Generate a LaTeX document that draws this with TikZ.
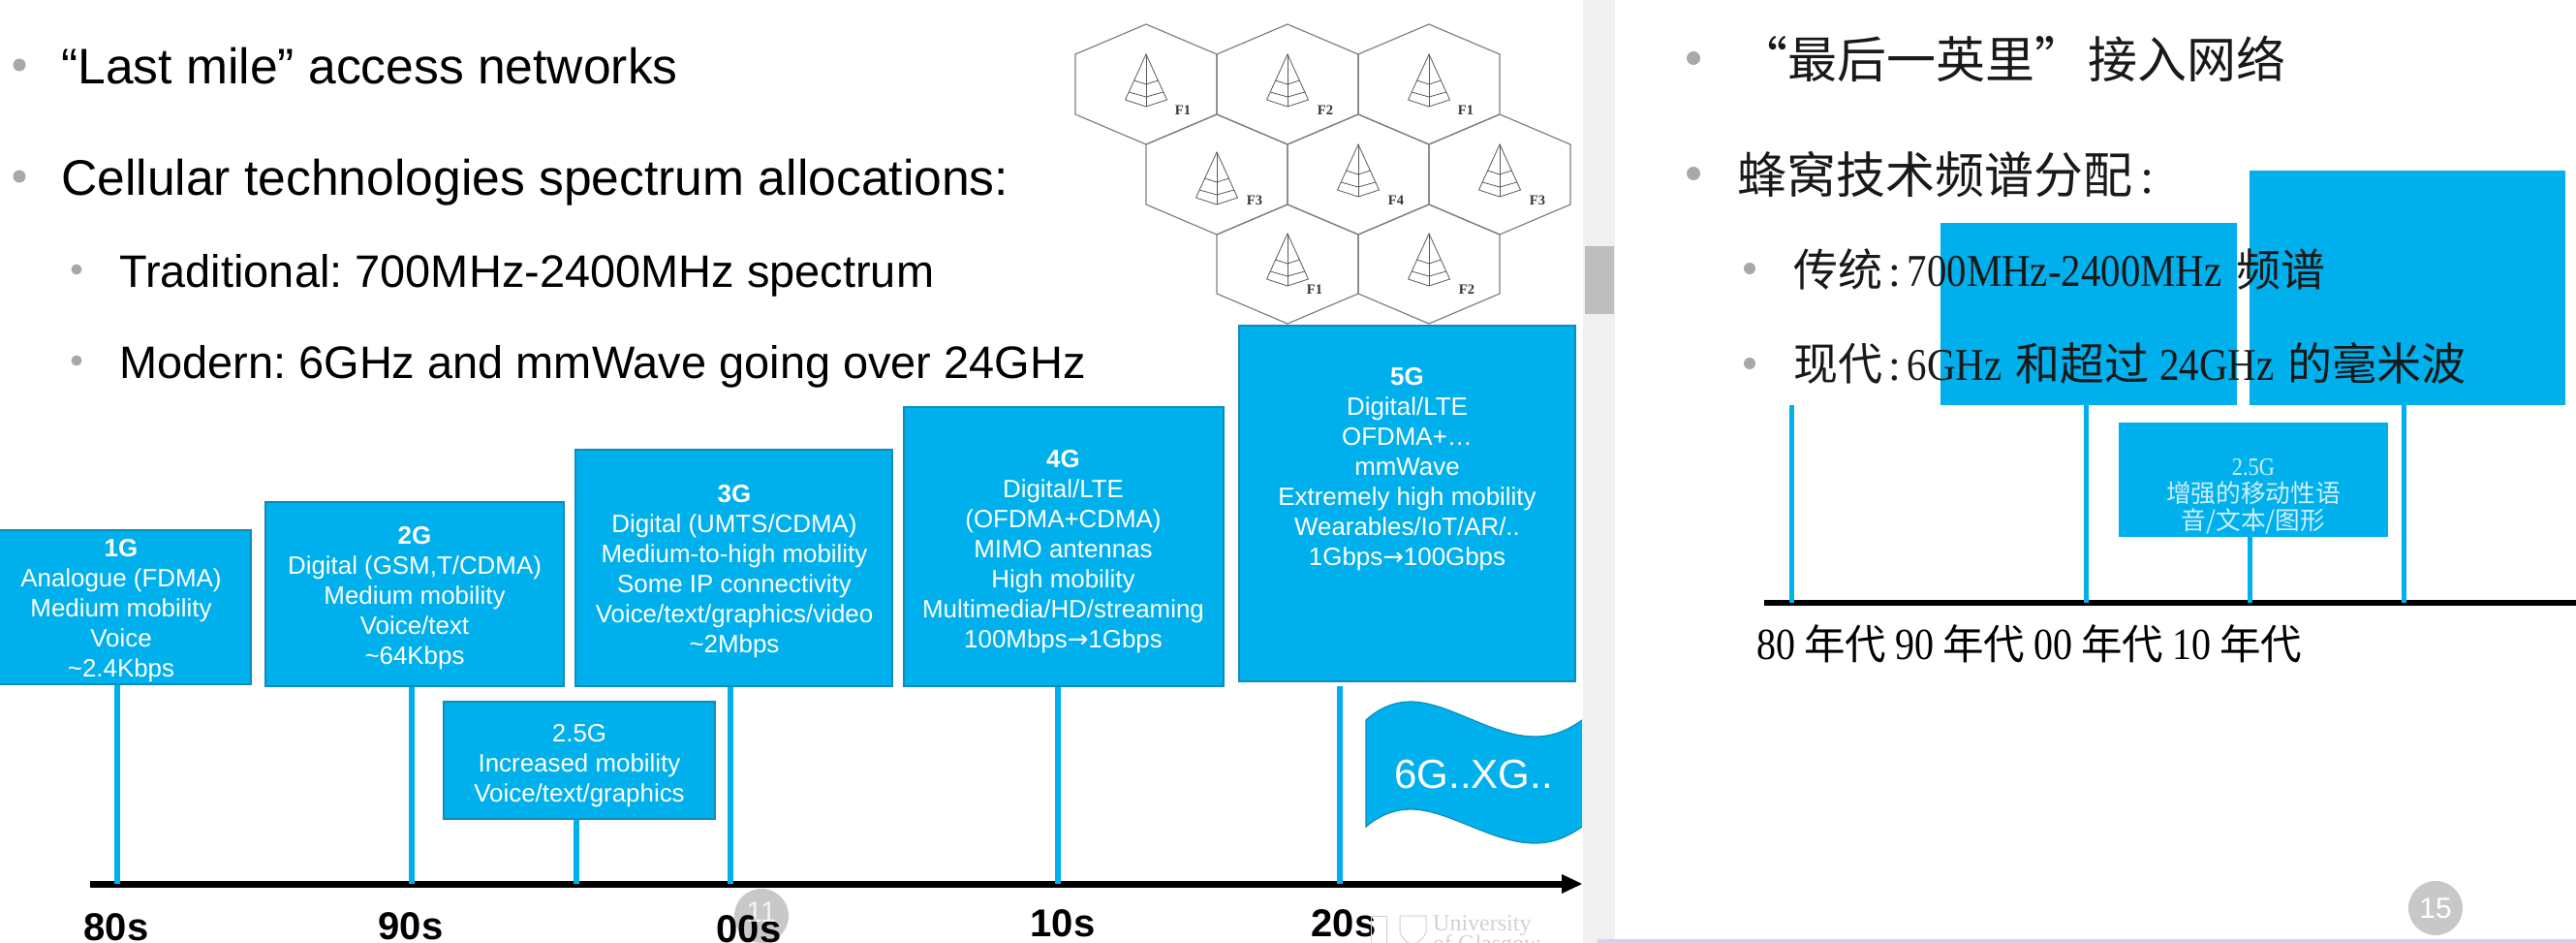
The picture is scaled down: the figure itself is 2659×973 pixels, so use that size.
\documentclass[tikz,border=0pt]{standalone}
\usepackage{fontspec}
\setmainfont{Liberation Sans}
\newfontfamily\cjk{Noto Sans CJK SC}
\newfontfamily\slab[FakeStretch=0.87]{Liberation Serif}
\newfontfamily\plainserif{Liberation Serif}
\newfontfamily\arrowfont{DejaVu Sans}
\frenchspacing
\definecolor{gblue}{HTML}{00B0EC}
\definecolor{gedge}{HTML}{0C8DBB}
\definecolor{bul}{HTML}{A8A8A8}
\definecolor{pagenum}{HTML}{C8C8C8}
\definecolor{band}{HTML}{F0F0F0}
\definecolor{thumb}{HTML}{BEBEBE}
\definecolor{hexline}{HTML}{808080}
\definecolor{soft}{HTML}{CDEFFB}
\definecolor{strip}{HTML}{D8CFEE}
\newcommand{\fs}[1]{\fontsize{#1}{#1}\selectfont}
\newcommand{\arr}{{\arrowfont →}}
\newcommand{\hex}[3]{% cx, top, lower shoulder
  \pgfmathsetmacro{\hxl}{#1-73}\pgfmathsetmacro{\hxr}{#1+73}
  \pgfmathsetmacro{\hsu}{#2+31}\pgfmathsetmacro{\hbo}{#3+31}
  \draw[hexl] (#1,#2) -- (\hxr,\hsu) -- (\hxr,#3) -- (#1,\hbo) -- (\hxl,#3) -- (\hxl,\hsu) -- cycle;}
\newcommand{\tower}[2]{% apex x, apex y
  \pgfmathsetmacro{\tl}{#1-21.5}\pgfmathsetmacro{\tr}{#1+21.5}
  \pgfmathsetmacro{\tc}{#2+47}\pgfmathsetmacro{\tb}{#2+54}
  \draw[towerl] (\tl,\tc) -- (#1,#2) -- (\tr,\tc) -- (#1,\tb) -- (\tl,\tc);
  \draw[towerl] (#1,#2) -- (#1,\tb);
  \pgfmathsetmacro{\aa}{#1-12.4}\pgfmathsetmacro{\ab}{#1+12.4}
  \pgfmathsetmacro{\ay}{#2+27}\pgfmathsetmacro{\ac}{#2+31}
  \draw[towerl] (\aa,\ay) -- (#1,\ac) -- (\ab,\ay);
  \pgfmathsetmacro{\aa}{#1-17.8}\pgfmathsetmacro{\ab}{#1+17.8}
  \pgfmathsetmacro{\ay}{#2+39}\pgfmathsetmacro{\ac}{#2+44}
  \draw[towerl] (\aa,\ay) -- (#1,\ac) -- (\ab,\ay);}
\tikzset{
  x=1pt,y=-1pt,
  hexl/.style={draw=hexline,line width=1.2pt,line join=miter},
  towerl/.style={draw=black!65,line width=0.8pt},
  genbox/.style={draw=gedge,line width=1.5pt,fill=gblue,rectangle,inner sep=0pt},
  plainbox/.style={fill=gblue,draw=none,rectangle,inner sep=0pt},
  boxtext/.style={text=white,align=center,inner sep=0pt,anchor=north,font=\fontsize{25.9}{31}\selectfont},
  stem/.style={draw=gblue,line width=5.5pt},
  axisl/.style={draw=black,line width=7pt},
  bigtxt/.style={anchor=base west,inner sep=0pt,font=\fs{51.6},text=black},
  subtxt/.style={anchor=base west,inner sep=0pt,font=\fs{46.95},text=black},
  era/.style={anchor=base,inner sep=0pt,font=\bfseries\fs{40},text=black},
  bullet/.style={circle,fill=bul,draw=none,inner sep=0pt,minimum size=13pt},
  smallbullet/.style={circle,fill=bul,draw=none,inner sep=0pt,minimum size=11pt},
  cell/.style={anchor=center,inner sep=0pt,font=\plainserif\bfseries\fs{14.5},text=black!80},
  cjkline/.style={anchor=base west,inner sep=0pt,text=black!90},
  pagedot/.style={circle,fill=pagenum,draw=none,inner sep=0pt,minimum size=56pt},
}
\begin{document}
\begin{tikzpicture}
\useasboundingbox (0,0) rectangle (2659,973);
\fill[white] (0,0) rectangle (2659,973);
% scrollbar band and bottom strip
\fill[band] (1634,0) rectangle (1667,973);
\fill[thumb] (1636,254) rectangle (1666,324);
\fill[strip] (1649,969) rectangle (2659,973);
% left bullets
\node[bullet] (b1) at (20,67) {};
\node[bullet] (b2) at (20,182) {};
\node[smallbullet] (b3) at (79,278) {};
\node[smallbullet] (b4) at (79,372) {};
\node[bigtxt] (t1) at (63,87) {“Last mile” access networks};
\node[bigtxt] (t2) at (63,202) {Cellular technologies spectrum allocations:};
\node[subtxt] (t3) at (123,297) {Traditional: 700MHz-2400MHz spectrum};
\node[subtxt] (t4) at (123,391) {Modern: 6GHz and mmWave going over 24GHz};
% hexagons
\hex{1183}{25}{118}\hex{1329}{25}{118}\hex{1475}{25}{118}
\hex{1256}{118}{211}\hex{1402}{118}{211}\hex{1548}{118}{211}
\hex{1329}{211}{303}\hex{1475}{211}{303}
\tower{1183}{56}\tower{1329}{56}\tower{1475}{56}
\tower{1256}{157}\tower{1402}{149}\tower{1548}{149}
\tower{1329}{241}\tower{1475}{241}
\node[cell] (f1) at (1221,114) {F1};
\node[cell] (f2) at (1368,114) {F2};
\node[cell] (f3) at (1513,114) {F1};
\node[cell] (f4) at (1295,207) {F3};
\node[cell] (f5) at (1441,207) {F4};
\node[cell] (f6) at (1587,207) {F3};
\node[cell] (f7) at (1357,299) {F1};
\node[cell] (f8) at (1514,299) {F2};
% timeline left
\coordinate (axL) at (93,912);
\coordinate (axR) at (1612,912);
\coordinate (tip) at (1633,912);
\draw[axisl] (axL) -- (axR);
\fill[black] (1612,902) -- (tip) -- (1612,922) -- cycle;
% boxes
\node[genbox,minimum width=268pt,minimum height=159pt] (g1) at (125,626.5) {};
\node[genbox,minimum width=308pt,minimum height=190pt] (g2) at (428,613) {};
\node[genbox,minimum width=327pt,minimum height=244pt] (g3) at (757.5,586) {};
\node[genbox,minimum width=280pt,minimum height=121pt] (g25) at (598,784.5) {};
\node[genbox,minimum width=330pt,minimum height=288pt] (g4) at (1098,564) {};
\node[genbox,minimum width=347pt,minimum height=367pt] (g5) at (1452.5,519.5) {};
% stems
\coordinate (s1) at (121,912);\coordinate (s2) at (425,912);\coordinate (s25) at (595,912);
\coordinate (s3) at (754,912);\coordinate (s4) at (1092,912);\coordinate (s5) at (1383,912);
\draw[stem] (g1.south -| s1) -- (s1);
\draw[stem] (g2.south -| s2) -- (s2);
\draw[stem] (g25.south -| s25) -- (s25);
\draw[stem] (g3.south -| s3) -- (s3);
\draw[stem] (g4.south -| s4) -- (s4);
\draw[stem] (1383,708) -- (s5);
% box texts
\node[boxtext] (x1) at (125,556.5) {\textbf{1G}\\Analogue (FDMA)\\Medium mobility\\Voice\\\textasciitilde2.4Kbps};
\node[boxtext] (x2) at (428,543) {\textbf{2G}\\Digital (GSM,T/CDMA)\\Medium mobility\\Voice/text\\\textasciitilde64Kbps};
\node[boxtext] (x3) at (758,500.5) {\textbf{3G}\\Digital (UMTS/CDMA)\\Medium-to-high mobility\\Some IP connectivity\\Voice/text/graphics/video\\\textasciitilde2Mbps};
\node[boxtext] (x25) at (598,747.5) {2.5G\\Increased mobility\\Voice/text/graphics};
\node[boxtext] (x4) at (1097.5,464) {\textbf{4G}\\Digital/LTE\\(OFDMA+CDMA)\\MIMO antennas\\High mobility\\Multimedia/HD/streaming\\100Mbps\arr1Gbps};
\node[boxtext] (x5) at (1452.5,379.5) {\textbf{5G}\\Digital/LTE\\OFDMA+…\\mmWave\\Extremely high mobility\\Wearables/IoT/AR/..\\1Gbps\arr100Gbps};
% wave
\begin{scope}
\clip (1400,700) rectangle (1633,900);
\draw[fill=gblue,draw=gedge,line width=1.2pt] (1410,743) .. controls (1425,729) and (1442,724) .. (1456,724)
  .. controls (1495,724) and (1540,760) .. (1584,760) .. controls (1605,760) and (1620,753) .. (1640,738)
  -- (1640,848) .. controls (1620,863) and (1605,870) .. (1584,870)
  .. controls (1540,870) and (1495,835) .. (1456,835) .. controls (1442,835) and (1425,840) .. (1410,853) -- cycle;
\end{scope}
\node[anchor=center,inner sep=0pt,text=white,font=\fs{42}] (w) at (1521,799) {6G..XG..};
% era labels and page dot
\node[pagedot] (p11) at (786,945) {};
\node[era] (e1) at (120,970) {80s};
\node[era] (e2) at (424,969) {90s};
\node[era] (e3) at (773,972) {00s};
\node[era] (e4) at (1097,966) {10s};
\node[era] (e5) at (1387,966) {20s};
\node[anchor=center,inner sep=0pt,text=white,opacity=.8,font=\fs{30}] (n11) at (786,941) {11};
% logo
\begin{scope}
\clip (1400,930) rectangle (1640,973);
\node[anchor=west,inner sep=0pt,text=black!18,font=\plainserif\fs{24}] (un) at (1479,955) {University};
\node[anchor=west,inner sep=0pt,text=black!18,font=\plainserif\fs{24}] (gl) at (1479,976) {of Glasgow};
\draw[black!18,line width=1pt] (1445,945) -- (1472,945) -- (1472,962) .. controls (1469,970) and (1462,973) .. (1458,975) .. controls (1453,973) and (1448,970) .. (1445,962) -- cycle;
\draw[black!18,line width=1pt] (1415,973) -- (1415,945) -- (1431,945) -- (1431,973);
\end{scope}
% right pane
\node[plainbox,minimum width=306pt,minimum height=188pt] (ra) at (2156,324) {};
\node[plainbox,minimum width=326pt,minimum height=242pt] (rb) at (2485,297) {};
\node[plainbox,minimum width=278pt,minimum height=118pt] (rc) at (2326,495) {};
\coordinate (r1) at (1849,622);\coordinate (r2) at (2153,622);\coordinate (r3) at (2322,622);\coordinate (r4) at (2481,622);
\draw[axisl,line width=6pt] (1821,622) -- (2659,622);
\draw[stem,line width=5pt] (1849,418) -- (r1);
\draw[stem,line width=5pt] (ra.south -| r2) -- (r2);
\draw[stem,line width=5pt] (rc.south -| r3) -- (r3);
\draw[stem,line width=5pt] (rb.south -| r4) -- (r4);
\node[bullet,minimum size=14pt] (c1) at (1748,60) {};
\node[bullet,minimum size=14pt] (c2) at (1748,179) {};
\node[smallbullet,minimum size=12pt] (c3) at (1806,277) {};
\node[smallbullet,minimum size=12pt] (c4) at (1806,375) {};
\node[cjkline,font=\cjk\fs{51}] (z1) at (1794,81) {“最后一英里”\hspace{4pt}接入网络};
\node[cjkline,font=\cjk\fs{51}] (z2) at (1793,200) {蜂窝技术频谱分配\hspace{8pt}{\plainserif :}};
\node[cjkline,font=\cjk\fs{46}] (z3) at (1851,296) {传统\makebox[25.5pt][c]{\plainserif :}{\slab\fs{47}700MHz-2400MHz}\hspace{15pt}频谱};
\node[cjkline,font=\cjk\fs{46}] (z4) at (1851,393) {现代\makebox[25.5pt][c]{\plainserif :}{\slab\fs{47}6GHz}\hspace{14pt}和超过\hspace{11pt}{\slab\fs{47}24GHz}\hspace{14pt}的毫米波};
\node[anchor=center,inner sep=0pt,align=center,text=soft,font=\cjk\fontsize{25.7}{28}\selectfont] (rt) at (2326,512) {{\slab 2.5G}\\增强的移动性语\\音/文本/图形};
\node[cjkline,font=\cjk\fs{42.5},text=black] (z5) at (1813,680) {{\slab\fs{46}80}\hspace{9pt}年代\hspace{9pt}{\slab\fs{46}90}\hspace{9pt}年代\hspace{9pt}{\slab\fs{46}00}\hspace{9pt}年代\hspace{9pt}{\slab\fs{46}10}\hspace{9pt}年代};
\node[pagedot] (p15) at (2514,937) {};
\node[anchor=center,inner sep=0pt,text=white,font=\fs{30}] (n15) at (p15) {15};
\end{tikzpicture}
\end{document}
